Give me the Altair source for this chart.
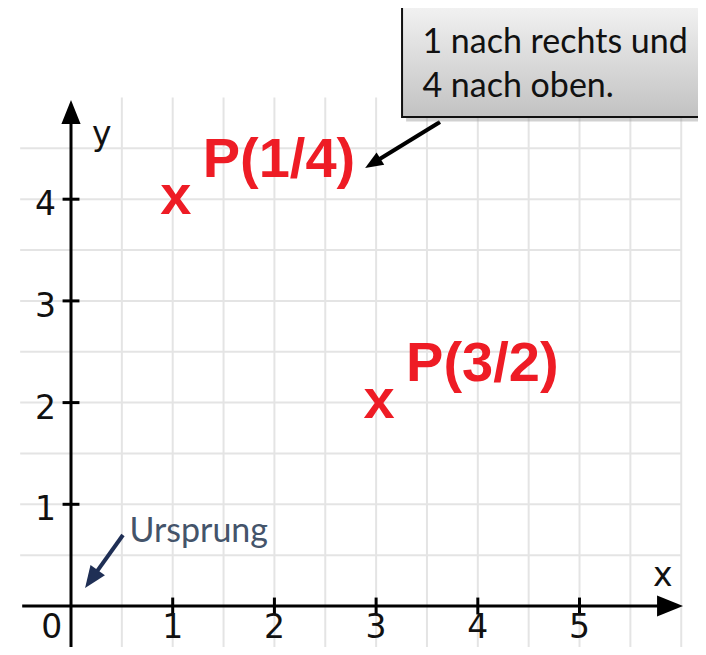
import altair as alt
import pandas as pd

# ---- scales (data units) ----
X_DOMAIN = [-0.6195, 6.165]
Y_DOMAIN = [-0.4031, 5.88]

# ---- grid ----
grid_x = [0.5, 1.0, 1.5, 2.0, 2.5, 3.0, 3.5, 4.0, 4.5, 5.0, 5.5, 6.0]
grid_y = [0.5, 1.0, 1.5, 2.0, 2.5, 3.0, 3.5, 4.0, 4.5]
grid_x_range = [-0.5, 6.0]
grid_y_range = [-0.5, 5.0]

# ---- axes ----
x_axis_range = [-0.48, 5.89]
y_axis_range = [-0.5, 4.857]
x_ticks = [1, 2, 3, 4, 5]
y_ticks = [1, 2, 3, 4]
x_tick_labels = ["0", "1", "2", "3", "4", "5"]
x_tick_label_pos = [-0.19, 1, 2, 3, 4, 5]
x_tick_label_y = -0.318
y_tick_labels = ["1", "2", "3", "4"]
y_tick_label_x = -0.147
tick_half = 0.083

# ---- points ----
pt_x = [1, 3]
pt_y = [4, 2]
pt_labels = ["P(1/4)", "P(3/2)"]

# ---- annotations ----
box_x = [3.255, 6.4]
box_y = [4.808, 5.95]
box_lines = ["1 nach rechts und", "4 nach oben."]
box_text_x = 3.455
box_text_y = [5.437, 5.005]
callout_arrow_x = [3.628, 2.967]
callout_arrow_y = [4.759, 4.353]
origin_arrow_x = [0.511, 0.2006]
origin_arrow_y = [0.698, 0.2645]
origin_label = "Ursprung"
origin_label_x = 0.575
origin_label_y = 0.629
axis_names = ["x", "y"]
axis_name_x = [5.723, 0.206]
axis_name_y = [0.197, 4.533]

xs = alt.Scale(domain=X_DOMAIN, nice=False, zero=False)
ys = alt.Scale(domain=Y_DOMAIN, nice=False, zero=False)


def X(f="x"):
    return alt.X(f"{f}:Q", scale=xs, axis=None)


def Y(f="y"):
    return alt.Y(f"{f}:Q", scale=ys, axis=None)


ARROW = "M0,-1L0.8,1L-0.8,1Z"

# grid
vgrid = pd.DataFrame({"x": grid_x, "y": grid_y_range[0], "y2": grid_y_range[1]})
hgrid = pd.DataFrame({"y": grid_y, "x": grid_x_range[0], "x2": grid_x_range[1]})
grid_v = alt.Chart(vgrid).mark_rule(color="#e4e4e4", strokeWidth=2).encode(
    x=X(), y=Y(), y2="y2:Q")
grid_h = alt.Chart(hgrid).mark_rule(color="#e4e4e4", strokeWidth=2).encode(
    y=Y(), x=X(), x2="x2:Q")

# axes
axes_df = pd.DataFrame({
    "x": [x_axis_range[0], 0], "x2": [x_axis_range[1], 0],
    "y": [0, y_axis_range[0]], "y2": [0, y_axis_range[1]],
})
axes = alt.Chart(axes_df).mark_rule(color="black", strokeWidth=3).encode(
    x=X(), x2="x2:Q", y=Y(), y2="y2:Q")

heads_df = pd.DataFrame({"x": [x_axis_range[1], 0], "y": [0, y_axis_range[1]],
                         "a": [90, 0], "s": [676, 576]})
heads = alt.Chart(heads_df).mark_point(shape=ARROW, filled=True, color="black",
                                        opacity=1, strokeWidth=0).encode(
    x=X(), y=Y(), angle=alt.Angle("a:Q", scale=None), size=alt.Size("s:Q", scale=None))

xt = pd.DataFrame({"x": x_ticks, "y": -tick_half, "y2": tick_half})
yt = pd.DataFrame({"y": y_ticks, "x": -tick_half, "x2": tick_half})
xticks = alt.Chart(xt).mark_rule(color="black", strokeWidth=3).encode(x=X(), y=Y(), y2="y2:Q")
yticks = alt.Chart(yt).mark_rule(color="black", strokeWidth=3).encode(y=Y(), x=X(), x2="x2:Q")

tickfont = dict(font="DejaVu Sans", fontSize=33, color="#111111")
xlab_df = pd.DataFrame({"x": x_tick_label_pos, "y": x_tick_label_y, "t": x_tick_labels})
xlabs = alt.Chart(xlab_df).mark_text(align="center", baseline="alphabetic", **tickfont).encode(
    x=X(), y=Y(), text="t:N")
ylab_df = pd.DataFrame({"y": y_ticks, "x": y_tick_label_x, "t": y_tick_labels})
ylabs = alt.Chart(ylab_df).mark_text(align="right", baseline="alphabetic", dy=16, **tickfont).encode(
    x=X(), y=Y(), text="t:N")
name_df = pd.DataFrame({"x": axis_name_x, "y": axis_name_y, "t": axis_names})
names = alt.Chart(name_df).mark_text(align="left", baseline="alphabetic", **tickfont).encode(
    x=X(), y=Y(), text="t:N")

# points
pts_df = pd.DataFrame({"x": pt_x, "y": pt_y, "t": pt_labels})
redfont = dict(font="Liberation Sans", fontWeight="bold", fontSize=56, color="#ee1c25")
marks = alt.Chart(pts_df).mark_text(align="center", baseline="alphabetic", dx=3, dy=15, **redfont).encode(
    x=X(), y=Y(), text=alt.value("x"))
labels = alt.Chart(pts_df).mark_text(align="left", baseline="alphabetic", dx=30, dy=-22, **redfont).encode(
    x=X(), y=Y(), text="t:N")

# callout box
shadow_df = pd.DataFrame({"x": [box_x[0] + 0.04], "x2": [box_x[1] + 0.04],
                          "y": [box_y[0] - 0.045], "y2": [box_y[1] - 0.045]})
shadow = alt.Chart(shadow_df).mark_rect(color="#9a9a9a", opacity=0.45).encode(
    x=X(), x2="x2:Q", y=Y(), y2="y2:Q")
box_df = pd.DataFrame({"x": [box_x[0]], "x2": [box_x[1]], "y": [box_y[0]], "y2": [box_y[1]]})
grad = alt.LinearGradient(gradient="linear",
                          stops=[alt.GradientStop(color="#f4f4f4", offset=0),
                                 alt.GradientStop(color="#c2c2c2", offset=1)],
                          x1=0, x2=0, y1=0, y2=1)
box = alt.Chart(box_df).mark_rect(fill=grad, stroke="#111111", strokeWidth=2).encode(
    x=X(), x2="x2:Q", y=Y(), y2="y2:Q")
btxt_df = pd.DataFrame({"x": box_text_x, "y": box_text_y, "t": box_lines})
btxt = alt.Chart(btxt_df).mark_text(align="left", baseline="alphabetic", font="Lato",
                                    fontSize=34, color="#111111").encode(
    x=X(), y=Y(), text="t:N")

# callout arrow
ca_df = pd.DataFrame({"x": [callout_arrow_x[0]], "x2": [callout_arrow_x[1]],
                      "y": [callout_arrow_y[0]], "y2": [callout_arrow_y[1]]})
ca_line = alt.Chart(ca_df).mark_rule(color="black", strokeWidth=4).encode(
    x=X(), x2="x2:Q", y=Y(), y2="y2:Q")
ca_head = alt.Chart(pd.DataFrame({"x": [callout_arrow_x[1]], "y": [callout_arrow_y[1]]})).mark_point(
    shape=ARROW, filled=True, color="black", opacity=1, strokeWidth=0, size=324, angle=238).encode(
    x=X(), y=Y())

# origin arrow
oa_df = pd.DataFrame({"x": [origin_arrow_x[0]], "x2": [origin_arrow_x[1]],
                      "y": [origin_arrow_y[0]], "y2": [origin_arrow_y[1]]})
oa_line = alt.Chart(oa_df).mark_rule(color="#1f2f55", strokeWidth=4).encode(
    x=X(), x2="x2:Q", y=Y(), y2="y2:Q")
oa_head = alt.Chart(pd.DataFrame({"x": [origin_arrow_x[1]], "y": [origin_arrow_y[1]]})).mark_point(
    shape=ARROW, filled=True, color="#1f2f55", opacity=1, strokeWidth=0, size=484, angle=215).encode(
    x=X(), y=Y())
otxt = alt.Chart(pd.DataFrame({"x": [origin_label_x], "y": [origin_label_y], "t": [origin_label]})).mark_text(
    align="left", baseline="alphabetic", font="Lato", fontSize=34, color="#44546a").encode(
    x=X(), y=Y(), text="t:N")

chart = alt.layer(
    grid_v, grid_h, axes, heads, xticks, yticks, xlabs, ylabs, names,
    marks, labels, ca_line, ca_head, oa_line, oa_head, otxt,
    shadow, box, btxt,
).properties(width=690, height=639, padding=0, autosize="none", background="white"
).configure_view(stroke=None)

chart.save("out.html", embed_options={"renderer": "svg", "actions": False})
